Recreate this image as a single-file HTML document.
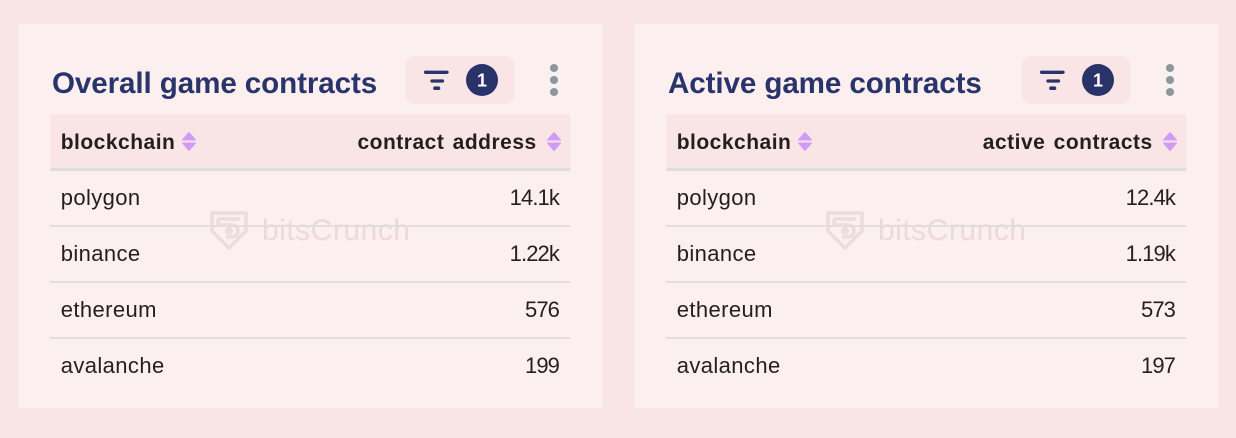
<!DOCTYPE html>
<html>
<head>
<meta charset="utf-8">
<style>
  html,body{margin:0;padding:0;}
  body{width:1236px;height:438px;background:#f9e4e6;position:relative;overflow:hidden;font-family:"Liberation Sans",Arial,sans-serif;}
  .card{position:absolute;top:24px;width:584px;height:384px;background:#fcefef;}
  .title{position:absolute;left:34px;top:44.9px;font-size:29.6px;line-height:29.6px;font-weight:bold;color:#29346a;white-space:nowrap;letter-spacing:-0.1px;}
  .fbtn{position:absolute;left:388px;top:32px;width:108px;height:47.5px;border-radius:9px;background:#f9e4e6;}
  .dot{position:absolute;left:532px;width:8px;height:8px;border-radius:50%;background:#8b979a;}
  .hdr{position:absolute;left:32px;top:90px;width:520px;height:54px;background:#f9e4e6;border-bottom:3px solid #dfdddd;}
  .hl{position:absolute;top:108.2px;font-size:21px;line-height:21px;font-weight:bold;color:#231f20;letter-spacing:0.5px;word-spacing:2px;white-space:nowrap;}
  .sort{position:absolute;top:108px;width:14px;height:19px;}
  .line{position:absolute;left:32px;width:520px;height:2px;background:#e2dcdc;}
  .rl{position:absolute;left:42.7px;font-size:22px;line-height:22px;color:#231f20;letter-spacing:0.4px;white-space:nowrap;}
  .rn{position:absolute;right:43px;font-size:22px;line-height:22px;color:#231f20;white-space:nowrap;text-align:right;letter-spacing:-0.9px;}
  .wm{position:absolute;left:244px;top:191.6px;font-size:30px;line-height:30px;color:#e9dadd;letter-spacing:0.5px;white-space:nowrap;}
  .shield{position:absolute;left:192px;top:187px;width:38px;height:39px;}
</style>
</head>
<body>

<!-- Card 1 -->
<div class="card" style="left:18px;">
  <svg class="shield" viewBox="0 0 38 39"><path d="M2 2 H36 V20 L19 37 L2 20 Z" fill="none" stroke="#eadcdf" stroke-width="3.5" stroke-linejoin="round"/><path d="M8 8 H30 M8 8 V14 H22 a6 6 0 0 1 0 12 H16" fill="none" stroke="#eadcdf" stroke-width="3.5"/><circle cx="19" cy="20" r="4" fill="#eadcdf"/></svg>
  <div class="wm">bitsCrunch</div>

  <div class="title">Overall game contracts</div>
  <div class="fbtn">
    <svg width="108" height="48" style="position:absolute;left:0;top:0">
      <line x1="19.5" y1="16.3" x2="41" y2="16.3" stroke="#29346a" stroke-width="3.3" stroke-linecap="round"/>
      <line x1="26" y1="25" x2="36.5" y2="25" stroke="#29346a" stroke-width="3.3" stroke-linecap="round"/>
      <line x1="29" y1="32.2" x2="32.5" y2="32.2" stroke="#29346a" stroke-width="3.6" stroke-linecap="round"/>
      <circle cx="76" cy="24" r="16" fill="#29336a"/>
      <text x="76" y="30.5" text-anchor="middle" font-family="Liberation Sans, Arial, sans-serif" font-weight="bold" font-size="18" fill="#ffffff">1</text>
    </svg>
  </div>
  <div class="dot" style="top:40px;"></div>
  <div class="dot" style="top:52px;"></div>
  <div class="dot" style="top:64px;"></div>

  <div class="hdr"></div>
  <div class="hl" style="left:42.7px;">blockchain</div>
  <svg class="sort" style="left:164px;" viewBox="0 0 14 19"><path d="M7 0.5 L13.5 8 H0.5 Z" fill="#cf9bf6" stroke="#cf9bf6" stroke-linejoin="round"/><path d="M0.5 11 H13.5 L7 18.5 Z" fill="#cf9bf6" stroke="#cf9bf6" stroke-linejoin="round"/></svg>
  <div class="hl" style="right:65.3px;">contract address</div>
  <svg class="sort" style="left:529px;" viewBox="0 0 14 19"><path d="M7 0.5 L13.5 8 H0.5 Z" fill="#cf9bf6" stroke="#cf9bf6" stroke-linejoin="round"/><path d="M0.5 11 H13.5 L7 18.5 Z" fill="#cf9bf6" stroke="#cf9bf6" stroke-linejoin="round"/></svg>

  <div class="line" style="top:201px;"></div>
  <div class="line" style="top:257px;"></div>
  <div class="line" style="top:313px;"></div>

  <div class="rl" style="top:163.4px;">polygon</div>
  <div class="rl" style="top:219.4px;">binance</div>
  <div class="rl" style="top:275.4px;">ethereum</div>
  <div class="rl" style="top:331.4px;">avalanche</div>

  <div class="rn" style="top:163.4px;">14.1k</div>
  <div class="rn" style="top:219.4px;">1.22k</div>
  <div class="rn" style="top:275.4px;">576</div>
  <div class="rn" style="top:331.4px;">199</div>
</div>

<!-- Card 2 -->
<div class="card" style="left:634px;">
  <svg class="shield" viewBox="0 0 38 39"><path d="M2 2 H36 V20 L19 37 L2 20 Z" fill="none" stroke="#eadcdf" stroke-width="3.5" stroke-linejoin="round"/><path d="M8 8 H30 M8 8 V14 H22 a6 6 0 0 1 0 12 H16" fill="none" stroke="#eadcdf" stroke-width="3.5"/><circle cx="19" cy="20" r="4" fill="#eadcdf"/></svg>
  <div class="wm">bitsCrunch</div>

  <div class="title">Active game contracts</div>
  <div class="fbtn">
    <svg width="108" height="48" style="position:absolute;left:0;top:0">
      <line x1="19.5" y1="16.3" x2="41" y2="16.3" stroke="#29346a" stroke-width="3.3" stroke-linecap="round"/>
      <line x1="26" y1="25" x2="36.5" y2="25" stroke="#29346a" stroke-width="3.3" stroke-linecap="round"/>
      <line x1="29" y1="32.2" x2="32.5" y2="32.2" stroke="#29346a" stroke-width="3.6" stroke-linecap="round"/>
      <circle cx="76" cy="24" r="16" fill="#29336a"/>
      <text x="76" y="30.5" text-anchor="middle" font-family="Liberation Sans, Arial, sans-serif" font-weight="bold" font-size="18" fill="#ffffff">1</text>
    </svg>
  </div>
  <div class="dot" style="top:40px;"></div>
  <div class="dot" style="top:52px;"></div>
  <div class="dot" style="top:64px;"></div>

  <div class="hdr"></div>
  <div class="hl" style="left:42.7px;">blockchain</div>
  <svg class="sort" style="left:164px;" viewBox="0 0 14 19"><path d="M7 0.5 L13.5 8 H0.5 Z" fill="#cf9bf6" stroke="#cf9bf6" stroke-linejoin="round"/><path d="M0.5 11 H13.5 L7 18.5 Z" fill="#cf9bf6" stroke="#cf9bf6" stroke-linejoin="round"/></svg>
  <div class="hl" style="right:65.3px;">active contracts</div>
  <svg class="sort" style="left:529px;" viewBox="0 0 14 19"><path d="M7 0.5 L13.5 8 H0.5 Z" fill="#cf9bf6" stroke="#cf9bf6" stroke-linejoin="round"/><path d="M0.5 11 H13.5 L7 18.5 Z" fill="#cf9bf6" stroke="#cf9bf6" stroke-linejoin="round"/></svg>

  <div class="line" style="top:201px;"></div>
  <div class="line" style="top:257px;"></div>
  <div class="line" style="top:313px;"></div>

  <div class="rl" style="top:163.4px;">polygon</div>
  <div class="rl" style="top:219.4px;">binance</div>
  <div class="rl" style="top:275.4px;">ethereum</div>
  <div class="rl" style="top:331.4px;">avalanche</div>

  <div class="rn" style="top:163.4px;">12.4k</div>
  <div class="rn" style="top:219.4px;">1.19k</div>
  <div class="rn" style="top:275.4px;">573</div>
  <div class="rn" style="top:331.4px;">197</div>
</div>

</body>
</html>
